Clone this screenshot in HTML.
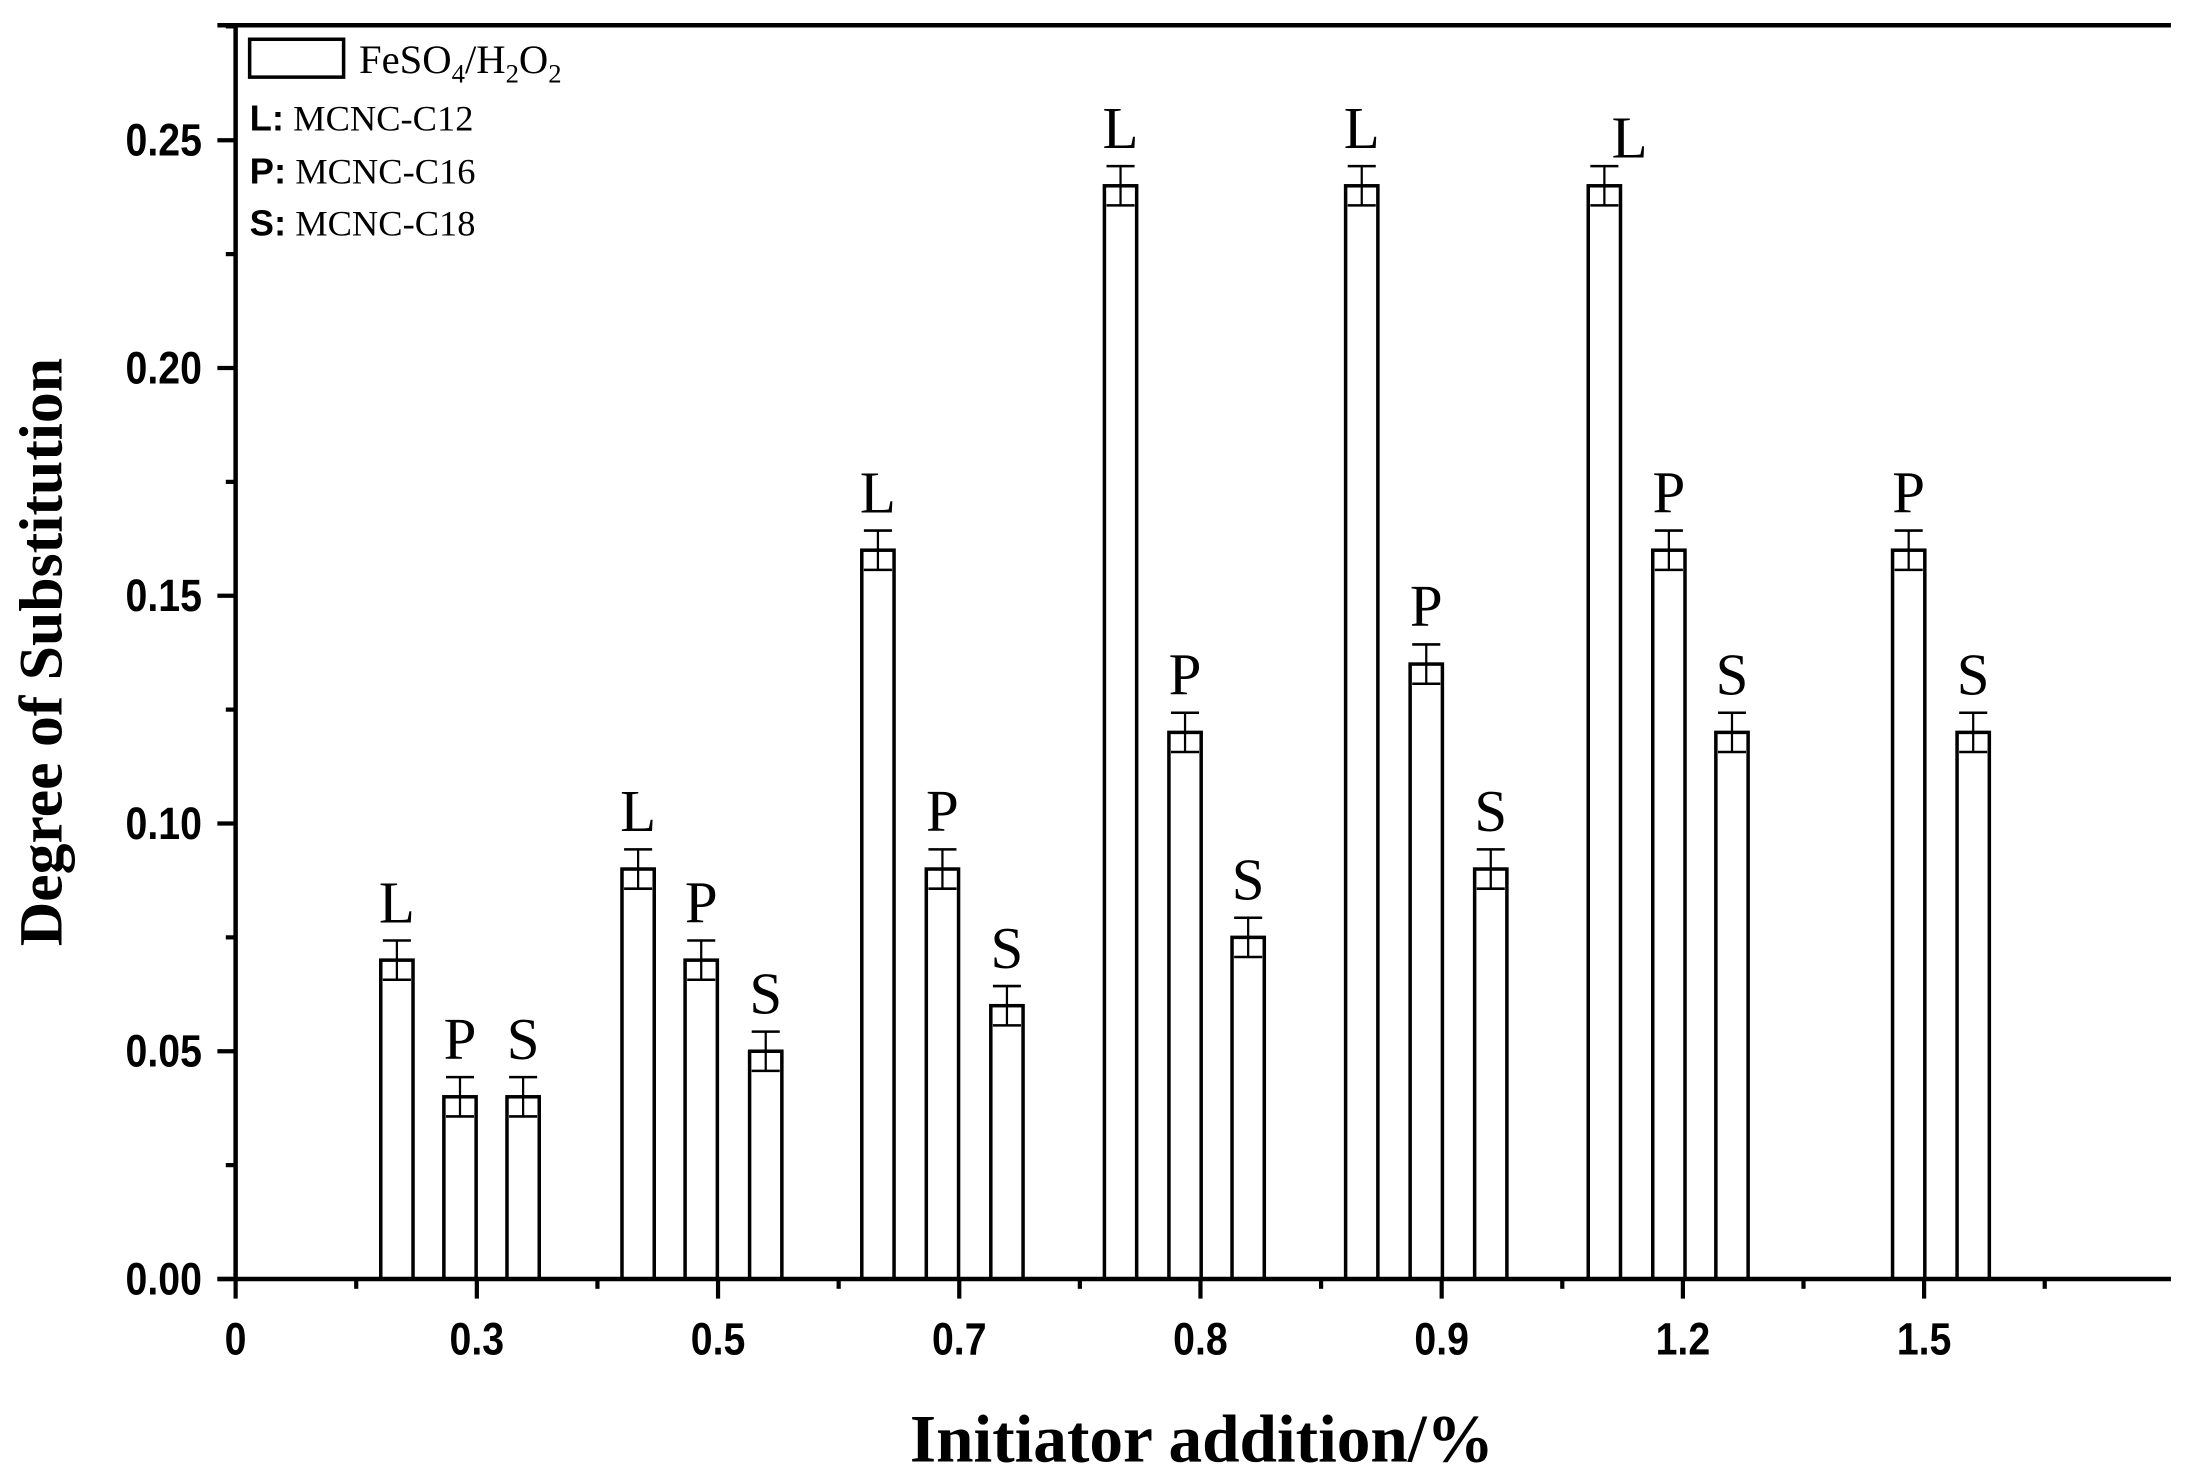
<!DOCTYPE html>
<html><head><meta charset="utf-8"><style>html,body{margin:0;padding:0;background:#fff}svg{display:block}</style></head><body>
<svg width="2199" height="1470" viewBox="0 0 1568 1048.2" xmlns="http://www.w3.org/2000/svg">
<rect width="1568" height="1048.2" fill="#fff"/>
<g id="bars" fill="none" stroke="#000"></g>
<g stroke="#000" stroke-width="3.2">
<line x1="168" y1="17" x2="168" y2="913.5"/>
<line x1="155" y1="912" x2="1548" y2="912"/>
<line x1="155" y1="18" x2="1548" y2="18"/>
</g>
<g id="ticks" stroke="#000" stroke-width="3"></g>
<g font-family="Liberation Sans, Arial, sans-serif" font-weight="bold" font-size="28" text-anchor="end" id="ylab" transform="scale(1,1.15)"></g>
<g font-family="Liberation Sans, Arial, sans-serif" font-weight="bold" font-size="28" text-anchor="middle" id="xlab"></g>
<text transform="translate(44,465) rotate(-90)" text-anchor="middle" font-family="Liberation Serif, serif" font-weight="bold" font-size="44">Degree of Substitution</text>
<text x="857" y="1042" text-anchor="middle" font-family="Liberation Serif, serif" font-weight="bold" font-size="48">Initiator addition/%</text>
<rect x="178" y="28" width="67" height="27" fill="none" stroke="#000" stroke-width="2.5"/>
<text x="256" y="52" font-family="Liberation Serif, serif" font-size="29">FeSO<tspan font-size="19" dy="7">4</tspan><tspan dy="-7">/H</tspan><tspan font-size="19" dy="7">2</tspan><tspan dy="-7">O</tspan><tspan font-size="19" dy="7">2</tspan></text>
<g font-size="26">
<text x="178" y="93"><tspan font-family="Liberation Sans, sans-serif" font-weight="bold">L:</tspan><tspan font-family="Liberation Serif, serif"> MCNC-C12</tspan></text>
<text x="178" y="131"><tspan font-family="Liberation Sans, sans-serif" font-weight="bold">P:</tspan><tspan font-family="Liberation Serif, serif"> MCNC-C16</tspan></text>
<text x="178" y="168"><tspan font-family="Liberation Sans, sans-serif" font-weight="bold">S:</tspan><tspan font-family="Liberation Serif, serif"> MCNC-C18</tspan></text>
</g>
<g id="letters" font-family="Liberation Serif, serif" font-size="42" text-anchor="middle"></g>
<script>
const NS="http://www.w3.org/2000/svg";
function el(p,t,a,txt){const e=document.createElementNS(NS,t);for(const k in a)e.setAttribute(k,a[k]);if(txt!==undefined)e.textContent=txt;document.getElementById(p).appendChild(e);}
const Y=v=>912-v*3248;
const data=[[283,.07,'L'],[328,.04,'P'],[373,.04,'S'],[455,.09,'L'],[500,.07,'P'],[546,.05,'S'],[626,.16,'L'],[672,.09,'P'],[718,.06,'S'],[799,.24,'L'],[845,.12,'P'],[890,.075,'S'],[971,.24,'L'],[1017,.135,'P'],[1063,.09,'S'],[1144,.24,'L'],[1190,.16,'P'],[1235,.12,'S'],[1361,.16,'P'],[1407,.12,'S']];
data.forEach(([c,v,l],i)=>{const y=Y(v);
el('bars','rect',{x:c-11.5,y:y,width:23,height:912-y,'stroke-width':2.5});
const e=14;
el('bars','line',{x1:c,y1:y-e,x2:c,y2:y+e,'stroke-width':1.6});
el('bars','line',{x1:c-10,y1:y-e,x2:c+10,y2:y-e,'stroke-width':1.8});
el('bars','line',{x1:c-10,y1:y+e,x2:c+10,y2:y+e,'stroke-width':1.8});
let lx=c; if(i==15) lx=c+18;
el('letters','text',{x:lx,y:y-e-(i==15?6:13)},l);
});
const yl=['0.00','0.05','0.10','0.15','0.20','0.25'];
for(let i=0;i<=5;i++){const y=Y(i*0.05);el('ticks','line',{x1:155,y1:y,x2:168,y2:y});el('ylab','text',{x:144,y:(y+11)/1.15},yl[i]);}
for(let i=0;i<6;i++){const y=Y(i*0.05+0.025);el('ticks','line',{x1:161,y1:y,x2:168,y2:y});}
const xl=['0','0.3','0.5','0.7','0.8','0.9','1.2','1.5'];
for(let i=0;i<8;i++){const x=168+i*172;el('ticks','line',{x1:x,y1:912,x2:x,y2:926});el('xlab','text',{x:x,y:966,transform:`translate(${x},966) scale(1,1.15) translate(${-x},-966)`},xl[i]);
el('ticks','line',{x1:x+86,y1:912,x2:x+86,y2:919});}
</script>
</svg>
</body></html>
